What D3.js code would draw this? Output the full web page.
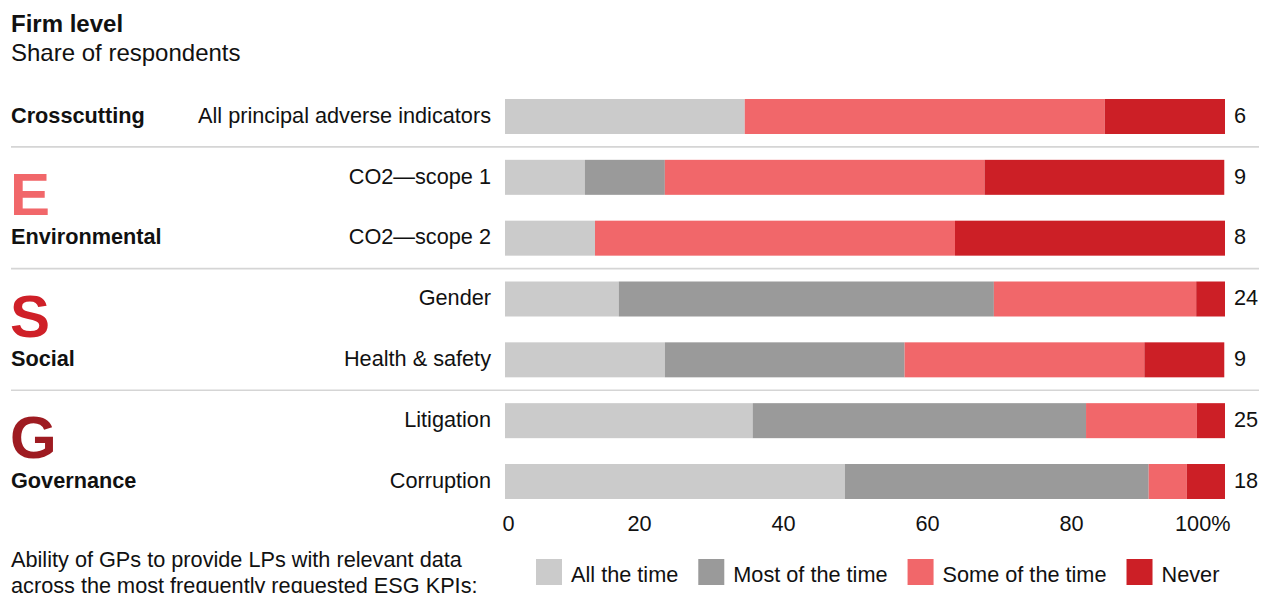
<!DOCTYPE html>
<html>
<head>
<meta charset="utf-8">
<script src="https://cdn.jsdelivr.net/npm/d3@7"></script>
<style>
  html, body { margin: 0; padding: 0; background: #fff; }
  svg { display: block; font-family: "Liberation Sans", Arial, Helvetica, sans-serif; }
</style>
</head>
<body>
<svg id="chart" width="1262" height="593"></svg>
<script>
// KPI rows, top to bottom
const categories = [
  "All principal adverse indicators",
  "CO2—scope 1",
  "CO2—scope 2",
  "Gender",
  "Health & safety",
  "Litigation",
  "Corruption"
];

// ESG pillars and the rows they cover
const groupNames   = ["Crosscutting", "Environmental", "Social", "Governance"];
const groupLetters = ["", "E", "S", "G"];
const groupRows    = [[0], [1, 2], [3, 4], [5, 6]];

// Share of respondents (%) per answer
const seriesNames   = ["All the time", "Most of the time", "Some of the time", "Never"];
const allTheTime    = [33.3, 11.1, 12.5, 15.8, 22.2, 34.4, 47.2];
const mostOfTheTime = [0.0, 11.1, 0.0, 52.1, 33.3, 46.3, 42.2];
const someOfTheTime = [50.0, 44.4, 50.0, 28.1, 33.3, 15.4, 5.3];
const never         = [16.7, 33.3, 37.5, 4.0, 11.1, 3.9, 5.3];

// Number of responses per row
const respondents = [6, 9, 8, 24, 9, 25, 18];

// Axis ticks
const tickValues = [0, 20, 40, 60, 80, 100];
const tickLabels = ["0", "20", "40", "60", "80", "100%"];

const seriesColors = ["#cbcbcb", "#9a9a9a", "#f1676a", "#cc1f26"];
const letterColors = ["", "#f1676a", "#cf2028", "#9e1b21"];

const svg = d3.select("#chart");
const FS = 21.7;

// Table for the stack layout
const table = categories.map((c, i) => ({
  category: c,
  [seriesNames[0]]: allTheTime[i],
  [seriesNames[1]]: mostOfTheTime[i],
  [seriesNames[2]]: someOfTheTime[i],
  [seriesNames[3]]: never[i]
}));
const stacked = d3.stack().keys(seriesNames)(table);

const x = d3.scaleLinear().domain([0, 100]).range([505, 1225]);
const y = d3.scaleBand().domain(categories).range([99, 499]).paddingInner(0.4247).paddingOuter(0);
const color = d3.scaleOrdinal().domain(seriesNames).range(seriesColors);

// Title
svg.append("text").attr("x", 11).attr("y", 31.5)
  .attr("font-size", 24).attr("font-weight", "bold").attr("fill", "#111")
  .text("Firm level");
svg.append("text").attr("x", 11).attr("y", 61)
  .attr("font-size", 24).attr("fill", "#111")
  .text("Share of respondents");

// Separators between pillars
for (let g = 0; g < groupRows.length - 1; g++) {
  const lastRow = categories[groupRows[g][groupRows[g].length - 1]];
  const nextRow = categories[groupRows[g + 1][0]];
  const yy = (y(lastRow) + y.bandwidth() + y(nextRow)) / 2;
  svg.append("line")
    .attr("x1", 11).attr("x2", 1259)
    .attr("y1", yy).attr("y2", yy)
    .attr("stroke", "#d5d5d5").attr("stroke-width", 1.6);
}

// Stacked bars
svg.append("g")
  .selectAll("g")
  .data(stacked)
  .join("g")
  .attr("fill", d => color(d.key))
  .selectAll("rect")
  .data(d => d)
  .join("rect")
  .attr("x", d => x(d[0]))
  .attr("y", d => y(d.data.category))
  .attr("width", d => Math.max(0, x(d[1]) - x(d[0])))
  .attr("height", y.bandwidth());

const labelDy = 6.2;

// Row labels
svg.append("g")
  .selectAll("text")
  .data(categories)
  .join("text")
  .attr("x", x(0) - 14)
  .attr("y", d => y(d) + y.bandwidth() / 2 + labelDy)
  .attr("text-anchor", "end")
  .attr("font-size", FS).attr("fill", "#111")
  .text(d => d);

// Respondent counts
svg.append("g")
  .selectAll("text")
  .data(categories)
  .join("text")
  .attr("x", x(100) + 9)
  .attr("y", d => y(d) + y.bandwidth() / 2 + labelDy)
  .attr("font-size", FS).attr("fill", "#111")
  .text((d, i) => respondents[i]);

// Pillar names and letters
groupNames.forEach((name, g) => {
  const rows = groupRows[g];
  const last = categories[rows[rows.length - 1]];
  svg.append("text")
    .attr("x", 11)
    .attr("y", y(last) + y.bandwidth() / 2 + labelDy)
    .attr("font-size", FS).attr("font-weight", "bold").attr("fill", "#111")
    .text(name);
  if (groupLetters[g]) {
    const first = categories[rows[0]];
    svg.append("text")
      .attr("x", 10)
      .attr("y", y(first) + 55)
      .attr("font-size", 60).attr("font-weight", "bold")
      .attr("fill", letterColors[g])
      .text(groupLetters[g]);
  }
});

// X axis
const axis = svg.append("g")
  .attr("transform", `translate(0,${y.range()[1]})`)
  .call(d3.axisBottom(x).tickValues(tickValues).tickFormat((d, i) => tickLabels[i]).tickSize(0));
axis.select(".domain").remove();
axis.attr("font-family", null);
axis.selectAll("text")
  .attr("font-size", FS).attr("fill", "#111")
  .attr("dy", 0).attr("y", 31.5)
  .attr("text-anchor", d => d === 0 ? "start" : (d === 100 ? "end" : "middle"))
  .attr("x", d => d === 0 ? -3 : (d === 100 ? 5 : -10));

// Legend
const legend = svg.append("g");
let lx = 536;
seriesNames.forEach((name, i) => {
  legend.append("rect")
    .attr("x", lx).attr("y", 559)
    .attr("width", 26).attr("height", 26)
    .attr("fill", color(name));
  const t = legend.append("text")
    .attr("x", lx + 35).attr("y", 582)
    .attr("font-size", FS).attr("fill", "#111")
    .text(name);
  lx += 35 + t.node().getComputedTextLength() + 20;
});

// Footnote
svg.append("text").attr("x", 11).attr("y", 566.5)
  .attr("font-size", FS).attr("fill", "#111")
  .text("Ability of GPs to provide LPs with relevant data");
svg.append("text").attr("x", 11).attr("y", 593)
  .attr("font-size", FS).attr("fill", "#111")
  .text("across the most frequently requested ESG KPIs:");
</script>
</body>
</html>
